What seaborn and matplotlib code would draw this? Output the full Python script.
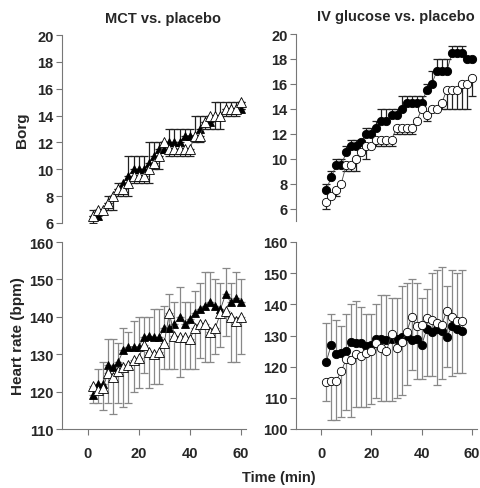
import numpy as np
import matplotlib
matplotlib.use("Agg")
import matplotlib.pyplot as plt
import seaborn as sns

# time points (min)
t_mct = list(range(2, 61, 2))
t_glu_borg = list(range(2, 61, 2))
t_glu_hr = list(range(2, 57, 2))

# MCT vs placebo - Borg
mct_borg = [6.5, 6.5, 7.0, 7.5, 8.0, 8.5, 9.0, 9.5, 10.0, 10.0, 10.0, 10.5, 11.0, 11.5, 11.5,
            12.0, 12.0, 12.0, 12.5, 12.5, 12.5, 13.0, 13.5, 13.5, 14.0, 14.0, 14.5, 14.5, 14.5, 14.5]
mct_borg_hi = [7.0, 7.0, 7.0, 8.0, 8.0, 9.0, 9.0, 11.0, 11.0, 11.0, 11.0, 12.0, 12.0, 12.0, 12.0,
               13.0, 13.0, 13.0, 13.0, 13.0, 14.0, 14.0, 14.0, 14.0, 15.0, 15.0, 15.0, 15.0, 15.0, 14.5]
pl1_borg = [6.5, 7.0, 7.0, 7.5, 8.0, 8.5, 8.5, 9.0, 9.5, 9.5, 9.5, 10.0, 10.5, 11.0, 12.0,
            11.5, 11.5, 11.5, 11.5, 11.5, 12.5, 12.5, 13.5, 14.0, 14.0, 14.0, 14.5, 14.5, 14.5, 15.0]
pl1_borg_lo = [6.0, 7.0, 7.0, 7.0, 7.0, 8.0, 8.0, 8.0, 9.0, 9.0, 9.0, 9.0, 10.0, 10.0, 12.0,
               11.0, 11.0, 11.0, 11.0, 11.0, 12.0, 12.0, 13.0, 13.0, 13.0, 13.0, 14.0, 14.0, 14.0, 15.0]

# IV glucose vs placebo - Borg
glu_borg = [7.5, 8.5, 9.5, 9.5, 10.5, 11.0, 11.0, 11.3, 12.0, 12.0, 12.5, 13.0, 13.0, 13.5, 13.5,
            14.0, 14.5, 14.5, 14.5, 14.5, 15.5, 16.0, 17.0, 17.0, 17.0, 18.5, 18.5, 18.5, 18.0, 18.0]
glu_borg_hi = [8.0, 9.0, 10.0, 10.0, 11.0, 11.5, 11.5, 11.5, 12.5, 12.5, 13.0, 14.0, 14.0, 14.0, 14.0,
               15.0, 15.0, 15.0, 15.0, 15.0, 16.0, 17.0, 18.0, 18.0, 18.0, 19.0, 19.0, 19.0, 18.0, 18.0]
pl2_borg = [6.5, 7.0, 7.5, 8.0, 9.5, 9.5, 10.0, 10.5, 11.0, 11.0, 11.5, 11.5, 11.5, 11.5, 12.5,
            12.5, 12.5, 12.5, 13.0, 14.0, 13.5, 14.0, 14.0, 14.5, 15.5, 15.5, 15.5, 16.0, 16.0, 16.5]
pl2_borg_lo = [6.0, 7.0, 7.0, 8.0, 9.0, 9.0, 9.0, 10.5, 10.0, 11.0, 11.0, 11.0, 11.0, 11.0, 12.0,
               12.0, 12.0, 12.0, 13.0, 14.0, 13.0, 14.0, 14.0, 14.0, 14.0, 14.0, 14.0, 14.0, 14.0, 15.0]

# MCT vs placebo - heart rate
mct_hr = [119, 122, 122, 127, 126.5, 128, 131, 132, 132, 132, 134.5, 135, 134.5, 134.5, 137,
          137, 138, 140, 138, 139.5, 141, 142, 143, 144, 143, 142, 146, 144, 145, 144]
mct_hr_hi = [121, 126, 128, 134, 134, 133, 137, 136, 139, 140, 140, 140, 142, 142, 143,
             146, 144, 148, 144, 144, 147, 149, 152, 152, 150, 149, 153, 149, 152, 150]
pl1_hr = [121.5, 120.5, 121, 125, 124, 125.5, 126.5, 127, 128.5, 129, 132.5, 130.5, 130, 130.5, 133,
          141, 135, 134.5, 134.5, 134, 137, 138, 138, 136, 137, 141, 141.5, 140, 139, 140]
pl1_hr_lo = [117, 117, 115, 117, 114, 117, 116, 117, 120, 121, 125, 121, 122, 122, 126,
             126, 126, 124, 126, 126, 126, 129, 128, 128, 130, 132, 135, 128, 128, 130]

# IV glucose vs placebo - heart rate
glu_hr = [121.5, 127, 124, 124.5, 125, 128, 127.5, 127.5, 126.5, 127, 129, 129, 128.5, 129,
          129, 129.5, 130, 128.5, 129, 127, 132, 131, 132, 131.5, 129.5, 133, 132, 131.5]
glu_hr_hi = [134, 137, 135, 133, 137, 140, 141, 139, 137, 137, 140, 143, 143, 142,
             142, 146, 147, 148, 147, 142, 145, 150, 151, 152, 146, 151, 150, 151]
pl2_hr = [115, 115.5, 115.5, 118.5, 122.5, 122, 124, 123.5, 124.5, 125, 127.5, 126, 125, 130.5,
          126, 128, 131, 136, 133, 133.5, 135.5, 135, 134, 133.5, 138, 136, 134.5, 134.5]
pl2_hr_lo = [109, 103, 103, 104, 106, 104, 107, 107, 107, 108, 110, 109, 109, 109,
             110, 111, 114, 119, 116, 116, 117, 117, 114, 116, 120, 117, 118, 118]

sns.set_style("ticks")
plt.rcParams['font.family'] = ['Liberation Sans', 'DejaVu Sans']
plt.rcParams['font.weight'] = 'bold'

fig = plt.figure(figsize=(4.81, 4.89), dpi=100)
W, H = 481, 489


def make_ax(x0, y0, x1, y1):
    return fig.add_axes([x0 / W, 1 - y1 / H, (x1 - x0) / W, (y1 - y0) / H])


def serie(ax, t, y, lim, up, marker, face, ecol, ms):
    y = np.array(y, float)
    lim = np.array(lim, float)
    if up:
        yerr = [np.zeros_like(y), lim - y]
    else:
        yerr = [y - lim, np.zeros_like(y)]
    ax.errorbar(t, y, yerr=yerr, fmt='none', ecolor=ecol, elinewidth=0.9,
                capsize=2.6, capthick=0.9, zorder=2)
    sns.lineplot(x=t, y=y, ax=ax, color='#444444', lw=0.6, marker=marker, markersize=ms,
                 markerfacecolor=face, markeredgecolor='black', markeredgewidth=0.6,
                 sort=False, zorder=3)


def style(ax, ylim, yticks, xaxis):
    ax.set_xlim(-10, 62)
    ax.set_ylim(*ylim)
    ax.set_yticks(yticks)
    for s in ['top', 'right']:
        ax.spines[s].set_visible(False)
    ax.spines['left'].set_color('#777777')
    ax.spines['bottom'].set_color('#777777')
    ax.spines['left'].set_linewidth(0.8)
    ax.spines['bottom'].set_linewidth(0.8)
    ax.tick_params(axis='y', length=4, width=0.8, color='#777777', labelsize=10.5, pad=2)
    if xaxis:
        ax.set_xticks([0, 20, 40, 60])
        ax.tick_params(axis='x', length=4, width=0.8, color='#777777', labelsize=10.5, pad=8)
    else:
        ax.spines['bottom'].set_visible(False)
        ax.set_xticks([])
    for lab in ax.get_xticklabels() + ax.get_yticklabels():
        lab.set_fontweight('bold')
    ax.set_xlabel('')
    ax.set_ylabel('')


ax1 = make_ax(62, 36, 246, 224)
serie(ax1, t_mct, mct_borg, mct_borg_hi, True, '^', 'black', '#222222', 6)
serie(ax1, t_mct, pl1_borg, pl1_borg_lo, False, '^', 'white', '#222222', 6.5)
style(ax1, (6, 20), range(6, 21, 2), False)
ax1.set_title('MCT vs. placebo', fontsize=10.5, fontweight='bold', pad=9, x=0.55)
ax1.set_ylabel('Borg', fontsize=11, fontweight='bold', labelpad=6)

ax2 = make_ax(296, 35, 477, 222)
serie(ax2, t_glu_borg, glu_borg, glu_borg_hi, True, 'o', 'black', '#222222', 6)
serie(ax2, t_glu_borg, pl2_borg, pl2_borg_lo, False, 'o', 'white', '#222222', 6)
style(ax2, (5, 20), range(6, 21, 2), False)
ax2.set_title('IV glucose vs. placebo', fontsize=10.5, fontweight='bold', pad=10, x=0.55)

ax3 = make_ax(62, 243, 246, 430)
serie(ax3, t_mct, mct_hr, mct_hr_hi, True, '^', 'black', '#888888', 6)
serie(ax3, t_mct, pl1_hr, pl1_hr_lo, False, '^', 'white', '#888888', 6.5)
style(ax3, (110, 160), range(110, 161, 10), True)
ax3.set_ylabel('Heart rate (bpm)', fontsize=11, fontweight='bold', labelpad=3)

ax4 = make_ax(296, 243, 477, 430)
serie(ax4, t_glu_hr, glu_hr, glu_hr_hi, True, 'o', 'black', '#888888', 6)
serie(ax4, t_glu_hr, pl2_hr, pl2_hr_lo, False, 'o', 'white', '#888888', 6)
style(ax4, (100, 160), range(100, 161, 10), True)

fig.text(279 / W, 1 - 478 / H, 'Time (min)', ha='center', va='center',
         fontsize=10.5, fontweight='bold')

fig.savefig('out.png', dpi=100)
